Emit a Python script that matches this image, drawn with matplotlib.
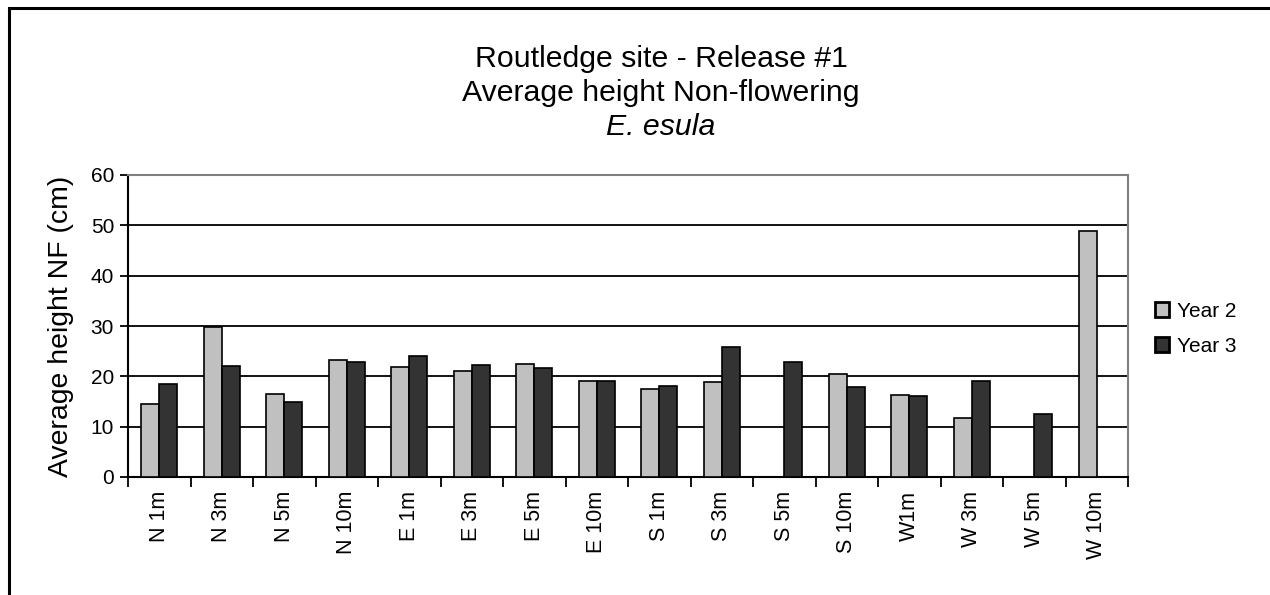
import numpy as np
import matplotlib
matplotlib.use("Agg")
import matplotlib.pyplot as plt
from matplotlib.patches import Rectangle

plt.rcParams['font.family'] = ['Liberation Sans', 'DejaVu Sans']

categories = ["N 1m", "N 3m", "N 5m", "N 10m", "E 1m", "E 3m", "E 5m", "E 10m",
              "S 1m", "S 3m", "S 5m", "S 10m", "W1m", "W 3m", "W 5m", "W 10m"]
year2 = [14.5, 29.9, 16.5, 23.3, 21.8, 21.1, 22.5, 19.0,
         17.5, 18.9, np.nan, 20.4, 16.3, 11.8, np.nan, 48.9]
year3 = [18.5, 22.0, 15.0, 22.8, 24.0, 22.3, 21.6, 19.0,
         18.0, 25.8, 22.8, 17.8, 16.1, 19.0, 12.5, np.nan]
series_names = ["Year 2", "Year 3"]
yticks = [0, 10, 20, 30, 40, 50, 60]

W, H = 1270, 595
fig = plt.figure(figsize=(W / 100, H / 100), dpi=100)
L, R, T, B = 128, 1128, 175, 477
ax = fig.add_axes([L / W, 1 - B / H, (R - L) / W, (B - T) / H])

n = len(categories)
x = np.arange(n)
bw = 1 / 3.5
ax.bar(x - bw / 2, year2, bw, color="#C0C0C0", edgecolor="black", linewidth=1.2,
       label=series_names[0], zorder=3)
ax.bar(x + bw / 2, year3, bw, color="#333333", edgecolor="black", linewidth=1.2,
       label=series_names[1], zorder=3)

ax.set_xlim(-0.5, n - 0.5)
ax.set_ylim(0, 60)
ax.set_yticks(yticks)
ax.set_yticklabels([str(v) for v in yticks], fontsize=15)
ax.yaxis.grid(True, color="black", linewidth=1.3, zorder=1)
ax.set_axisbelow(True)

ax.set_xticks(x)
ax.set_xticklabels(categories, rotation=90, fontsize=15.5, va="top")
ax.tick_params(axis="x", which="major", length=0, pad=10)
ax.set_xticks(np.arange(-0.5, n, 1), minor=True)
ax.tick_params(axis="x", which="minor", length=7, width=1.3, direction="out")
ax.tick_params(axis="y", length=6, width=1.3, direction="out", pad=4)

for s in ["left", "bottom"]:
    ax.spines[s].set_color("black")
    ax.spines[s].set_linewidth(1.5)
for s in ["top", "right"]:
    ax.spines[s].set_color("#808080")
    ax.spines[s].set_linewidth(1.5)

ax.set_ylabel("Average height NF (cm)", fontsize=20.4)
ax.yaxis.set_label_coords(-(L - 61) / (R - L), 0.5)
ax.yaxis.label.set_va("center")

fig.text(661 / W, 1 - 59 / H, "Routledge site - Release #1", ha="center", va="center", fontsize=21.8)
fig.text(661 / W, 1 - 93 / H, "Average height Non-flowering", ha="center", va="center", fontsize=21.8)
fig.text(661 / W, 1 - 127 / H, "E. esula", ha="center", va="center", fontsize=21.8, style="italic")

leg = fig.legend(loc="upper left", bbox_to_anchor=(1155 / W, 1 - 302 / H), frameon=False,
                 fontsize=15, handlelength=0.67, handleheight=0.7, handletextpad=0.4,
                 labelspacing=0.75, borderaxespad=0, borderpad=0)
for h in leg.legend_handles:
    h.set_linewidth(2.0)

fig.patches.append(Rectangle((8.5 / W, -0.1), 1.2, 1 - 8.5 / H + 0.1, transform=fig.transFigure,
                             fill=False, edgecolor="black", linewidth=2.2))

fig.savefig("out.png", dpi=100)
